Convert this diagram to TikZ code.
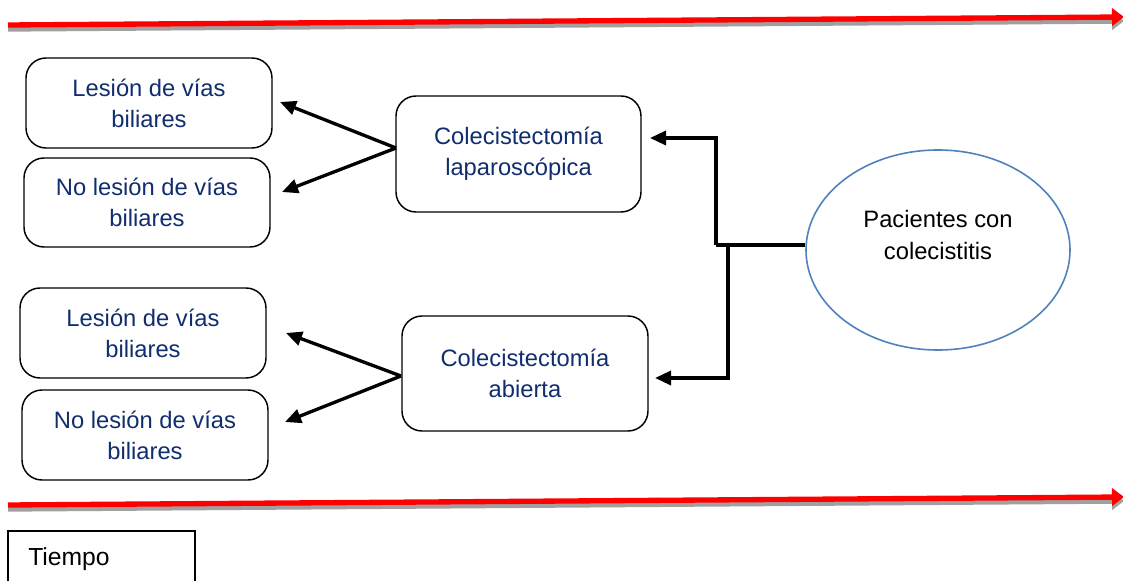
\documentclass[tikz,border=0pt]{standalone}
\usepackage{fontspec}
\setmainfont{Liberation Sans}
\usetikzlibrary{arrows.meta,shapes.geometric}
\definecolor{navy}{RGB}{16,45,110}
\definecolor{ellblue}{RGB}{79,129,189}
\definecolor{shadowgray}{RGB}{160,160,160}
\begin{document}
\begin{tikzpicture}[x=0.75pt,y=-0.75pt,
  txt/.style={font=\fontsize{17.8}{23.3}\selectfont, text=navy, align=center},
  rbox/.style={txt, draw=black, line width=1.1pt, rounded corners=15pt, minimum width=184.5pt, inner sep=0pt},
  conn/.style={line width=2.5pt, line join=miter, -{Triangle[length=12pt,width=10.5pt]}},
  plain/.style={line width=2.5pt},
  timeline/.style={line width=4pt, red, -{Triangle[length=9pt,width=13pt]}},
  timeshadow/.style={line width=4pt, shadowgray, -{Triangle[length=9pt,width=13pt]}}
]
\useasboundingbox (0,0) rectangle (1123,581);

% time lines
\coordinate (t1a) at (8,29); \coordinate (t1b) at (1124,21);
\coordinate (t1c) at (8,25); \coordinate (t1d) at (1124,17);
\draw[timeshadow] (t1a) -- (t1b);
\draw[timeline] (t1c) -- (t1d);
\coordinate (t2a) at (8,509); \coordinate (t2b) at (1124,501);
\coordinate (t2c) at (8,505); \coordinate (t2d) at (1124,497);
\draw[timeshadow] (t2a) -- (t2b);
\draw[timeline] (t2c) -- (t2d);

% outcome boxes
\node[rbox, minimum height=67.5pt] (l1) at (149,103) {Lesión de vías\\biliares};
\node[rbox, minimum height=66.75pt] (l2) at (147,202.5) {No lesión de vías\\biliares};
\node[rbox, minimum height=67.5pt] (l3) at (143,333) {Lesión de vías\\biliares};
\node[rbox, minimum height=67.5pt] (l4) at (145,435) {No lesión de vías\\biliares};

% procedure boxes
\node[rbox, minimum height=87pt, minimum width=183.75pt] (c1) at (518.5,154) {Colecistectomía\\laparoscópica};
\node[rbox, minimum height=86.25pt] (c2) at (525,373.5) {Colecistectomía\\abierta};

% population
\node[ellipse, draw=ellblue, line width=1.2pt, minimum width=198pt, minimum height=150pt] (p) at (938,250) {};
\node[font=\fontsize{17.8}{23.3}\selectfont, align=center, text=black, inner sep=0pt] (ptext) at (938,235) {Pacientes con\\colecistitis};

% branching from procedures
\coordinate (j1) at (396,148);
\coordinate (a1) at (280,102);
\coordinate (a2) at (282,192);
\draw[conn] (j1) -- (a1);
\draw[conn] (j1) -- (a2);
\coordinate (j2) at (401,376);
\coordinate (a3) at (286,333);
\coordinate (a4) at (285,422);
\draw[conn] (j2) -- (a3);
\draw[conn] (j2) -- (a4);

% from population
\coordinate (ja) at (716,245);
\coordinate (jb) at (728,245);
\coordinate (e1) at (650,138);
\coordinate (e2) at (655,378);
\draw[plain] (p.west |- ja) -- (ja);
\draw[conn] (ja) -- (ja |- e1) -- (e1);
\draw[conn] (jb) -- (jb |- e2) -- (e2);

% legend
\draw[line width=0.8pt] (8,585) -- (8,531) -- (195,531) -- (195,585);
\node[anchor=west, font=\fontsize{18.5}{22}\selectfont, text=black, inner sep=0pt] (tiempo) at (28,559) {Tiempo};
\end{tikzpicture}
\end{document}
